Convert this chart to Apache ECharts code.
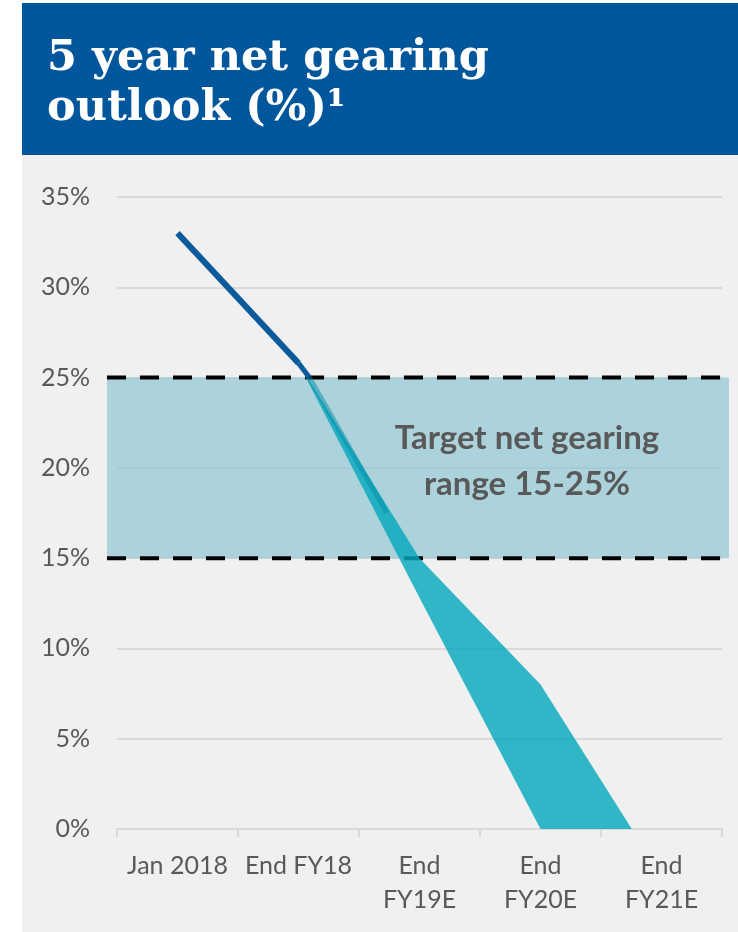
<!DOCTYPE html>
<html><head><meta charset="utf-8">
<script src="https://cdn.jsdelivr.net/npm/echarts@6/dist/echarts.min.js"></script>
<style>html,body{margin:0;padding:0;background:#fff}#c{width:738px;height:932px}</style>
</head><body><div id="c"></div>
<script>
// ---- data ----
const categories = ['Jan 2018', 'End FY18', 'End\nFY19E', 'End\nFY20E', 'End\nFY21E'];
const historical = [33.0, 25.8, null, null, null];
const historicalTail = [[1.0, 25.8], [1.09, 25.0]];
const bandLower = [null, 25.8, 12.8, 0.0, 0.0];
const bandUpper = [null, 25.8, 15.0, 8.0, -2.6];
const midPath = [[1.09, 25.0], [1.73, 17.5]];
const targetLow = 15;
const targetHigh = 25;
const yMin = 0, yMax = 35, yStep = 5;
const titleText = '5 year net gearing\noutlook (%)\u00B9';
const targetText = 'Target net gearing\nrange 15-25%';

const bandWidth = bandUpper.map((u, i) => (u == null || bandLower[i] == null) ? null : +(u - bandLower[i]).toFixed(2));

const chart = echarts.init(document.getElementById('c'), null, {renderer: 'canvas'});
const txt = '#595959';
const gridCol = '#d9d9d9';
const darkBlue = '#0b5a9b';
chart.setOption({
  backgroundColor: '#f0f0f0',
  animation: false,
  graphic: [
    {type: 'rect', shape: {x: 0, y: 0, width: 22, height: 932}, style: {fill: '#ffffff'}, silent: true},
    {type: 'rect', shape: {x: 0, y: 0, width: 738, height: 3}, style: {fill: '#ffffff'}, silent: true},
    {type: 'rect', shape: {x: 22, y: 3, width: 716, height: 152}, style: {fill: '#02569b'}, silent: true},
    {type: 'text', z: 10, style: {text: titleText, x: 47, y: 84, fill: '#ffffff',
      fontFamily: 'DejaVu Serif', fontWeight: 'bold', fontSize: 43, lineHeight: 50,
      align: 'left', verticalAlign: 'middle'}},
    {type: 'text', z: 100, style: {text: targetText, x: 527, y: 461, fill: txt,
      fontFamily: 'Lato', fontWeight: 'bold', fontSize: 33, lineHeight: 46,
      align: 'center', verticalAlign: 'middle'}}
  ],
  grid: [
    {left: 107, right: 9, top: 197, bottom: 103},
    {left: 117, right: 16, top: 197, bottom: 103}
  ],
  xAxis: [
    {type: 'value', gridIndex: 0, min: 0, max: 1, show: false},
    {type: 'category', gridIndex: 1, data: categories, boundaryGap: true,
      axisLine: {lineStyle: {color: gridCol, width: 2}},
      axisTick: {show: true, length: 8, lineStyle: {color: gridCol, width: 2}},
      axisLabel: {color: txt, fontFamily: 'Lato', fontSize: 25, lineHeight: 34, margin: 20, interval: 0}},
    {type: 'value', gridIndex: 1, min: -0.5, max: 4.5, show: false}
  ],
  yAxis: [
    {type: 'value', gridIndex: 0, min: yMin, max: yMax, show: false},
    {type: 'value', gridIndex: 1, min: yMin, max: yMax, interval: yStep,
      axisLine: {show: false}, axisTick: {show: false},
      splitLine: {lineStyle: {color: gridCol, width: 2}},
      axisLabel: {formatter: '{value}%', color: txt, fontFamily: 'Lato', fontSize: 25, margin: 27}}
  ],
  series: [
    {type: 'line', xAxisIndex: 0, yAxisIndex: 0, data: [], z: 1, silent: true,
      markArea: {silent: true, itemStyle: {color: 'rgba(143,196,209,0.7)'},
        data: [[{coord: [0, targetLow]}, {coord: [1, targetHigh]}]]}},
    {type: 'line', xAxisIndex: 0, yAxisIndex: 0, data: [[0, targetHigh], [1, targetHigh]], z: 3,
      symbol: 'none', lineStyle: {color: '#000', width: 4, type: [19, 14]}, clip: false},
    {type: 'line', xAxisIndex: 0, yAxisIndex: 0, data: [[0, targetLow], [1, targetLow]], z: 3,
      symbol: 'none', lineStyle: {color: '#000', width: 4, type: [19, 14]}, clip: false},
    {type: 'line', xAxisIndex: 1, yAxisIndex: 1, data: bandLower, stack: 'band', stackStrategy: 'all',
      symbol: 'none', lineStyle: {width: 0, opacity: 0}, z: 4},
    {type: 'line', xAxisIndex: 1, yAxisIndex: 1, data: bandWidth, stack: 'band', stackStrategy: 'all',
      symbol: 'none', lineStyle: {width: 0, opacity: 0},
      areaStyle: {color: 'rgba(6,168,189,0.82)', opacity: 1}, z: 4},
    {type: 'line', xAxisIndex: 2, yAxisIndex: 1, data: midPath, symbol: 'none',
      lineStyle: {color: 'rgba(0,140,165,0.5)', width: 5}, z: 5},
    {type: 'line', xAxisIndex: 2, yAxisIndex: 1, data: historicalTail, symbol: 'none',
      lineStyle: {color: darkBlue, width: 5, join: 'round'}, z: 6},
    {type: 'line', xAxisIndex: 1, yAxisIndex: 1, data: historical, symbol: 'none',
      lineStyle: {color: darkBlue, width: 6, join: 'round'}, z: 6}
  ]
});
</script></body></html>
